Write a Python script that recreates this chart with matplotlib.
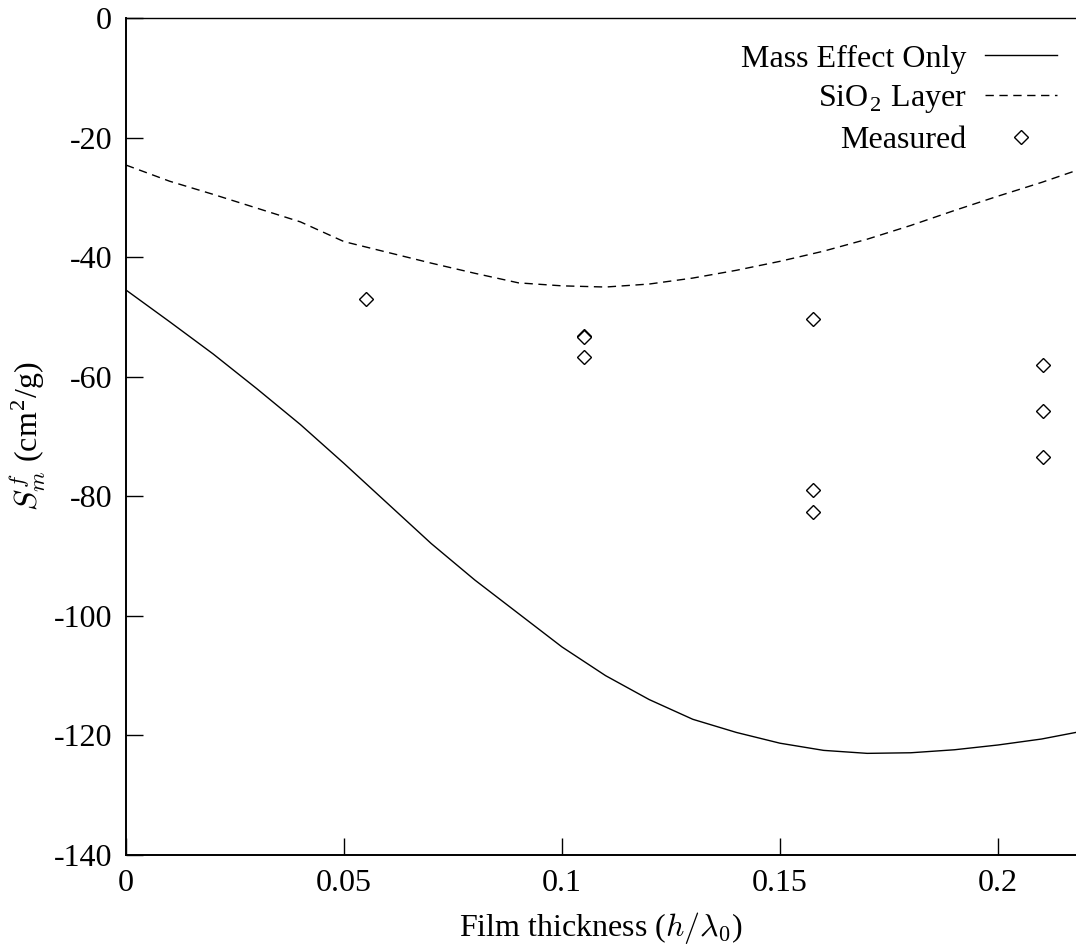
import matplotlib
matplotlib.use("Agg")
import matplotlib.pyplot as plt

# ---- data ----
thickness = [0.00, 0.01, 0.02, 0.03, 0.04, 0.05, 0.06, 0.07, 0.08, 0.09, 0.10,
             0.11, 0.12, 0.13, 0.14, 0.15, 0.16, 0.17, 0.18, 0.19, 0.20, 0.21, 0.22]
mass_only = [-45.5, -50.8, -56.2, -62.0, -68.0, -74.5, -81.2, -87.9, -94.0, -99.6, -105.2,
             -110.0, -114.0, -117.3, -119.5, -121.3, -122.5, -123.0, -122.9, -122.4, -121.6, -120.6, -119.2]
sio2_layer = [-24.6, -27.3, -29.5, -31.8, -34.1, -37.4, -39.2, -41.0, -42.7, -44.3, -44.8,
              -45.0, -44.5, -43.5, -42.2, -40.7, -39.0, -37.0, -34.7, -32.2, -29.8, -27.5, -25.0]
meas_x = [0.055, 0.105, 0.105, 0.105, 0.1576, 0.1576, 0.1576, 0.2103, 0.2103, 0.2103]
meas_y = [-47.0, -53.2, -53.3, -56.7, -50.3, -78.9, -82.6, -58.0, -65.7, -73.4]

x_ticks = [0, 0.05, 0.1, 0.15, 0.2]
x_ticklabels = ["0", "0.05", "0.1", "0.15", "0.2"]
y_ticks = [0, -20, -40, -60, -80, -100, -120, -140]

plt.rcParams['font.family'] = ['Liberation Serif', 'DejaVu Serif']
plt.rcParams['mathtext.fontset'] = 'cm'
plt.rcParams['axes.unicode_minus'] = False

FS = 23

fig = plt.figure(figsize=(10.76, 9.48), dpi=100)
ax = fig.add_axes([126/1076, 1-855/948, 1-126/1076, (855-18)/948])

ax.plot(thickness, mass_only, color='black', lw=1.0, label='Mass Effect Only')
ax.plot(thickness, sio2_layer, color='black', lw=1.0, ls=(0, (6, 4)),
        label=r'SiO$_\mathregular{2}$ Layer')
ax.plot(meas_x, meas_y, ls='none', marker='D', ms=7, mfc='white', mec='black', mew=1.0,
        label='Measured')

ax.set_xlim(0, 0.2179)
ax.set_ylim(-140, 0)
ax.set_xticks(x_ticks)
ax.set_xticklabels(x_ticklabels)
ax.set_yticks(y_ticks)
ax.set_yticklabels([str(v) for v in y_ticks])
ax.tick_params(direction='in', length=12, width=1.0, labelsize=FS, pad=10,
               top=False, right=False)
ax.spines['right'].set_visible(False)
for s in ['left', 'bottom']:
    ax.spines[s].set_linewidth(1.4)
ax.spines['top'].set_linewidth(1.0)

ax.set_xlabel(r'Film thickness ($h/\lambda_0$)', fontsize=FS, labelpad=9)
ax.set_ylabel(r'$S^f_m$ (cm$^\mathregular{2}$/g)', fontsize=FS, labelpad=4)

leg = ax.legend(loc='upper right', bbox_to_anchor=(0.9937, 0.984), borderaxespad=0,
                frameon=False, markerfirst=False, fontsize=FS, handlelength=2.25,
                handletextpad=0.6, labelspacing=0.31)
for t in leg.get_texts():
    t.set_ha('right')

fig.savefig('out.png', dpi=100)
